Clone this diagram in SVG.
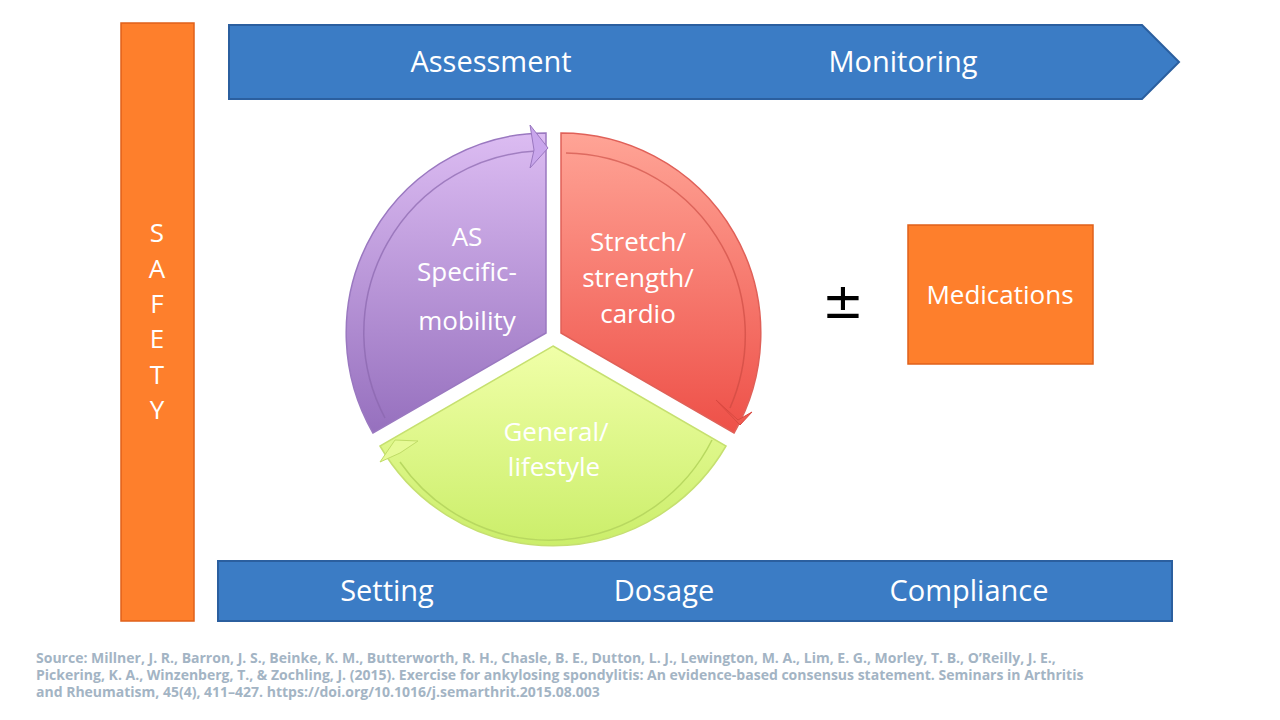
<svg xmlns="http://www.w3.org/2000/svg" width="1280" height="720" viewBox="0 0 1280 720">
<defs>
<linearGradient id="gp" x1="0" y1="0" x2="0" y2="1"><stop offset="0" stop-color="#dcbcf2"/><stop offset="1" stop-color="#9670be"/></linearGradient>
<linearGradient id="gr" x1="0" y1="0" x2="0" y2="1"><stop offset="0" stop-color="#ffa496"/><stop offset="1" stop-color="#ee5048"/></linearGradient>
<linearGradient id="gg" x1="0" y1="0" x2="0" y2="1"><stop offset="0" stop-color="#f0ffa8"/><stop offset="1" stop-color="#cbee6a"/></linearGradient>
<style>
.bar{fill:#3b7cc5;stroke:#2b5f9f;stroke-width:2}
.org{fill:#fe7f2c;stroke:#e0601a;stroke-width:1.5}
.bt{font-family:"Open Sans",sans-serif;font-size:29px;fill:#fff;text-anchor:middle}
.wt{font-family:"Open Sans",sans-serif;font-size:26px;fill:#fff;text-anchor:middle}
.src{font-family:"Open Sans",sans-serif;font-size:14px;font-weight:bold;fill:#a3b4c4}
</style>
</defs>
<g id="safety"><rect class="org" x="121" y="23" width="73" height="598"/>
<g class="wt" font-size="22"><text x="157" y="242">S</text><text x="157" y="278">A</text><text x="157" y="313">F</text><text x="157" y="348">E</text><text x="157" y="384">T</text><text x="157" y="419">Y</text></g></g>
<g id="top-bar"><path class="bar" d="M229,25 H1142 L1179,62 L1142,99 H229 Z"/>
<text class="bt" x="491" y="72">Assessment</text><text class="bt" x="903" y="72">Monitoring</text></g>
<g id="bottom-bar"><rect class="bar" x="218" y="561" width="954" height="60"/>
<text class="bt" x="387" y="601">Setting</text><text class="bt" x="664" y="601">Dosage</text><text class="bt" x="969" y="601">Compliance</text></g>
<g id="as-mobility">
<path d="M546,333 L373,433 A200,200 0 0 1 546,133 Z" fill="url(#gp)" stroke="#9a78c0" stroke-width="1.5"/>
<path d="M385,418 A182,182 0 0 1 536,151" fill="none" stroke="#8a66ae" stroke-width="1.5" opacity="0.7"/>
<polygon points="530,125 548,148 530,168 534,150" fill="#c9a6ec" stroke="#9a78c0"/>
<text class="wt" x="467" y="246">AS</text><text class="wt" x="467" y="281">Specific-</text><text class="wt" x="467" y="330">mobility</text></g>
<g id="stretch">
<path d="M561,333 L561,133 A200,200 0 0 1 734,433 Z" fill="url(#gr)" stroke="#e06058" stroke-width="1.5"/>
<path d="M566,153 A182,182 0 0 1 730,408" fill="none" stroke="#c84840" stroke-width="1.5" opacity="0.6"/>
<polygon points="716,400 740,425 752,412 738,420" fill="#f05a50" stroke="#d84840"/>
<text class="wt" x="638" y="251">Stretch/</text><text class="wt" x="638" y="287">strength/</text><text class="wt" x="638" y="323">cardio</text></g>
<g id="general">
<path d="M553,346 L726,446 A200,200 0 0 1 380,446 Z" fill="url(#gg)" stroke="#c6e070" stroke-width="1.5"/>
<path d="M712,440 A182,182 0 0 1 400,462" fill="none" stroke="#b8d860" stroke-width="1.5"/>
<polygon points="380,462 395,440 418,441 400,453" fill="#e6fa96" stroke="#c0dc66"/>
<text class="wt" x="556" y="441">General/</text><text class="wt" x="554" y="476">lifestyle</text></g>
<g id="plusminus"><text x="843" y="318" font-family="DejaVu Sans,sans-serif" font-size="50" text-anchor="middle" fill="#000">±</text></g>
<g id="medications"><rect class="org" x="908" y="225" width="185" height="139"/>
<text class="wt" x="1000" y="304" font-size="24">Medications</text></g>
<g id="connectors"/>
<g class="src"><text x="36" y="663">Source: Millner, J. R., Barron, J. S., Beinke, K. M., Butterworth, R. H., Chasle, B. E., Dutton, L. J., Lewington, M. A., Lim, E. G., Morley, T. B., O’Reilly, J. E.,</text>
<text x="36" y="680">Pickering, K. A., Winzenberg, T., &amp; Zochling, J. (2015). Exercise for ankylosing spondylitis: An evidence-based consensus statement. Seminars in Arthritis</text>
<text x="36" y="697">and Rheumatism, 45(4), 411–427. https://doi.org/10.1016/j.semarthrit.2015.08.003</text></g>
</svg>
